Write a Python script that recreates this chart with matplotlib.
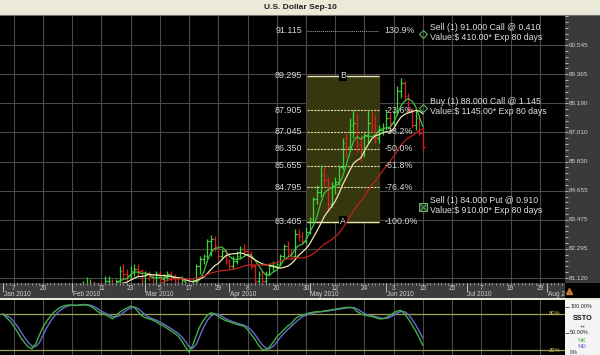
import numpy as np
import pandas as pd
import matplotlib
matplotlib.use("Agg")
import matplotlib.pyplot as plt

plt.rcParams['font.family'] = ['Liberation Sans', 'DejaVu Sans']

# trading calendar of the chart (Jan 18 missing in the feed)
dates = pd.bdate_range('2010-01-04', '2010-08-06')
dates = dates[dates != pd.Timestamp('2010-01-18')]

# daily OHLC, U.S. Dollar Sep-10 (Jan 4 .. Jun 15)
opens = [78.3, 78.0, 77.9, 77.6, 78.2, 77.7, 77.2, 77.3, 77.4, 77.2, 77.7, 78.1, 78.6, 78.8, 78.6, 78.4, 78.8, 79.2, 79.4,
         79.8, 79.9, 79.6, 80.0, 80.8, 80.9, 80.9, 80.5, 80.8, 80.7, 81.0, 81.0, 80.6, 81.0, 81.4, 81.3, 81.2, 81.4, 81.5, 81.4,
         81.0, 81.3, 81.2, 80.8, 81.3, 81.1, 81.2, 81.3, 81.2, 81.0, 80.9, 81.1, 80.6, 80.3, 81.0, 81.6, 81.9, 82.0, 82.6, 82.7, 82.4, 82.0, 82.2,
         81.8, 81.6, 81.8, 82.0, 82.3, 82.2, 82.1, 81.6, 81.0, 81.3, 81.0, 81.3, 81.6, 81.6, 81.7, 82.0, 82.4, 82.1, 82.0, 82.9, 82.8, 82.6,
         83.0, 83.5, 84.3, 84.6, 85.3, 85.1, 84.1, 84.8, 85.0, 85.6, 86.6, 86.4, 87.3, 87.4, 86.5, 86.1, 86.9, 87.4, 87.3, 86.8, 87.1,
         87.2, 87.6, 87.4, 87.8, 88.7, 89.0, 88.5, 87.9, 87.3, 87.6, 87.0]
highs = [78.4, 78.2, 78.0, 78.4, 78.5, 77.8, 77.5, 77.6, 77.5, 77.8, 78.2, 78.7, 79.0, 78.9, 78.7, 78.9, 79.3, 79.5, 79.9,
         80.0, 80.0, 80.1, 81.0, 81.15, 81.1, 81.0, 80.9, 81.0, 81.2, 81.2, 81.1, 81.1, 81.6, 81.7, 81.5, 81.6, 81.7, 81.7, 81.5,
         81.4, 81.4, 81.3, 81.4, 81.4, 81.3, 81.4, 81.4, 81.3, 81.2, 81.2, 81.1, 80.7, 81.1, 81.7, 82.0, 82.1, 82.7, 82.85, 82.8, 82.5, 82.3, 82.3,
         81.9, 82.0, 82.2, 82.4, 82.5, 82.3, 82.2, 81.7, 81.4, 81.4, 81.4, 81.7, 81.8, 81.8, 82.1, 82.5, 82.6, 82.3, 83.1, 83.1, 83.0, 83.2,
         83.6, 84.4, 84.9, 85.7, 85.6, 85.2, 85.0, 85.2, 85.7, 86.8, 87.0, 87.6, 87.9, 87.8, 86.9, 87.0, 87.9, 87.9, 87.7, 87.3, 87.4,
         87.9, 87.8, 87.9, 88.9, 89.2, 89.1, 88.6, 88.0, 87.9, 87.7, 87.2]
lows = [77.8, 77.7, 77.4, 77.5, 77.6, 77.1, 77.0, 77.1, 77.0, 77.1, 77.6, 78.0, 78.4, 78.4, 78.3, 78.3, 78.7, 79.0, 79.3,
        79.5, 79.4, 79.5, 79.9, 80.6, 80.6, 80.4, 80.4, 80.5, 80.6, 80.8, 80.5, 80.5, 80.9, 81.1, 81.0, 81.1, 81.2, 81.2, 80.9,
        80.9, 81.0, 80.7, 80.7, 80.9, 80.9, 81.0, 81.0, 80.9, 80.8, 80.8, 80.5, 80.2, 80.2, 80.9, 81.3, 81.7, 81.9, 82.0, 82.2, 81.9, 81.9, 81.7,
        81.5, 81.5, 81.7, 81.9, 82.0, 81.9, 81.5, 80.9, 80.9, 80.9, 80.9, 81.2, 81.4, 81.5, 81.6, 81.9, 82.0, 81.9, 81.9, 82.6, 82.5, 82.5,
        82.9, 83.4, 84.1, 84.4, 84.8, 83.8, 84.0, 84.5, 84.9, 85.5, 86.0, 86.3, 86.8, 86.2, 85.8, 86.0, 86.6, 87.0, 86.6, 86.6, 86.9,
        87.1, 87.1, 87.3, 87.7, 88.4, 88.3, 87.8, 87.2, 87.1, 86.9, 86.3]
closes = [78.0, 77.9, 77.6, 78.2, 77.8, 77.2, 77.3, 77.4, 77.2, 77.7, 78.1, 78.6, 78.8, 78.6, 78.4, 78.8, 79.2, 79.4, 79.8,
          79.9, 79.6, 80.0, 80.8, 80.9, 80.9, 80.5, 80.8, 80.7, 81.0, 81.0, 80.6, 81.0, 81.4, 81.3, 81.2, 81.4, 81.5, 81.4, 81.0,
          81.3, 81.2, 80.8, 81.3, 81.1, 81.2, 81.3, 81.2, 81.0, 80.9, 81.1, 80.6, 80.3, 81.0, 81.6, 81.9, 82.0, 82.6, 82.7, 82.4, 82.0, 82.2, 81.8,
          81.6, 81.8, 82.0, 82.3, 82.2, 82.1, 81.6, 81.0, 81.3, 81.0, 81.3, 81.6, 81.6, 81.7, 82.0, 82.4, 82.1, 82.0, 82.9, 82.8, 82.6, 83.0,
          83.5, 84.3, 84.6, 85.3, 85.1, 84.1, 84.8, 85.0, 85.6, 86.6, 86.4, 87.3, 87.4, 86.5, 86.1, 86.9, 87.4, 87.3, 86.8, 87.1, 87.2,
          87.6, 87.4, 87.8, 88.7, 89.0, 88.5, 87.9, 87.3, 87.6, 87.0, 86.4]

# slow stochastic %K
pct_k = [80, 74, 68, 60, 50, 40, 32, 25, 22, 30, 45, 58, 68, 76, 83, 88, 92, 94, 95, 95,
         94, 95, 96, 95, 93, 89, 84, 81, 79, 76, 72, 77, 83, 87, 90, 93, 91, 84, 77, 74,
         72, 70, 67, 63, 60, 56, 52, 48, 43, 35, 25, 16, 28, 45, 60, 70, 78, 82, 80, 76,
         72, 69, 67, 65, 63, 61, 60, 54, 46, 38, 28, 21, 20, 25, 33, 42, 48, 54, 60, 64,
         72, 76, 78, 80, 82, 83, 84, 84, 85, 86, 87, 88, 89, 90, 91, 91, 90, 84, 80, 78,
         77, 76, 74, 72, 72, 74, 78, 82, 85, 86, 80, 72, 62, 52, 40, 28]

# fibonacci retracement drawn from Apr 30 to May 28
fib_prices = [91.115, 89.295, 87.905, 87.045, 86.350, 85.655, 84.795, 83.405]
fib_pcts = ['130.9%', '', '-23.6%', '-38.2%', '-50.0%', '-61.8%', '-76.4%', '-100.0%']
fib_marks = ['', 'B', '', '', '', '', '', 'A']
fib_from, fib_to = '2010-04-30', '2010-05-28'

# option positions
opt_line1 = ['Sell (1) 91.000 Call @ 0.410', 'Buy (1) 88.000 Call @ 1.145', 'Sell (1) 84.000 Put @ 0.910']
opt_line2 = ['Value:$ 410.00* Exp 80 days', 'Value:$ 1145.00* Exp 80 days', 'Value:$ 910.00* Exp 80 days']
opt_strikes = [91.0, 88.0, 84.0]
opt_kind = ['call', 'call', 'put']

price_ticks = [81.120, 82.295, 83.475, 84.655, 85.830, 87.010, 88.190, 89.365, 90.545]

W, H = 600, 355
def frame(x0, y0, x1, y1):
    return [x0 / W, 1 - y1 / H, (x1 - x0) / W, (y1 - y0) / H]

def bare(a):
    a.set_xticks([]); a.set_yticks([])
    for s in a.spines.values():
        s.set_visible(False)

fig = plt.figure(figsize=(6, 3.55), dpi=100, facecolor='#ECE9D8')
XL = (-0.77, 153.9)
idx = np.arange(len(closes))
grid_x = np.arange(3, 150, 8)

# title bar
at = fig.add_axes(frame(0, 0, 600, 15), facecolor='#ECE9D8'); bare(at)
at.spines['bottom'].set_visible(True); at.spines['bottom'].set_color('#707070')
at.text(0.5, 0.5, 'U.S. Dollar Sep-10', ha='center', va='center', fontsize=6, fontweight='bold', color='#202020')

# price panel
ax = fig.add_axes(frame(0, 16, 565, 283), facecolor='black'); bare(ax)
ax.set_xlim(*XL); ax.set_ylim(80.918, 91.72)
for g in grid_x:
    ax.axvline(g, color='#4a4a4a', lw=0.8, zorder=0)
for p in price_ticks:
    ax.axhline(p, color='#4a4a4a', lw=0.8, zorder=0)

x0 = dates.get_loc(pd.Timestamp(fib_from)) + 0.3
x1 = dates.get_loc(pd.Timestamp(fib_to))
ax.fill_between([x0, x1], fib_prices[-1], fib_prices[1], color='#37370f', zorder=1)
for p, pc, mk in zip(fib_prices, fib_pcts, fib_marks):
    if mk:
        ax.hlines(p, x0, x1, color='#e6e6b4', lw=1, zorder=2)
        ax.text((x0 + x1) / 2, p, mk, ha='center', va='center', fontsize=6.4, color='#e0e0e0', zorder=3,
                bbox=dict(facecolor='black', edgecolor='none', pad=0.6))
    elif pc == '130.9%':
        ax.hlines(p, x0, x1, color='#a8a8a8', lw=0.7, linestyles=(0, (1, 1)), zorder=2)
    else:
        ax.hlines(p, x0, x1, color='#e0e0a0', lw=0.8, linestyles=(0, (2, 1)), zorder=2)
    ax.text(x0 - 1.4, p, f'{p:.3f}', ha='right', va='center', fontsize=6.4, color='#d8d8d8')
    if pc:
        ax.text(x1 + 1.4, p, pc, ha='left', va='center', fontsize=6.4, color='#d8d8d8', zorder=5)

o = np.array(opens); h = np.array(highs); l = np.array(lows); c = np.array(closes)
cols = np.where(c >= o, '#3cd23c', '#d82020')
ax.vlines(idx, l, h, colors=cols, lw=0.9, zorder=3)
ax.hlines(o, idx - 0.45, idx, colors=cols, lw=0.9, zorder=3)
ax.hlines(c, idx, idx + 0.45, colors=cols, lw=0.9, zorder=3)

cs = pd.Series(closes)
ax.plot(idx, cs.rolling(5, min_periods=1).mean(), color='#40c040', lw=0.9, zorder=4)
ax.plot(idx, cs.rolling(10, min_periods=1).mean(), color='#e8e8b0', lw=0.9, zorder=4)
ax.plot(idx, cs.rolling(25, min_periods=1).mean(), color='#c02020', lw=0.9, zorder=4)

xm = idx[-1]
for t1, t2, k, kind in zip(opt_line1, opt_line2, opt_strikes, opt_kind):
    if kind == 'put':
        ax.plot(xm, k, marker='s', ms=6, mfc='#1c301c', mec='#70b070', mew=0.8, zorder=6)
        ax.plot(xm, k, marker='x', ms=4, mec='#70b070', mew=0.6, zorder=7)
    else:
        ax.plot(xm, k, marker='D', ms=4.2, mfc='none', mec='#60b060', mew=0.8, zorder=6)
    ax.annotate(t1 + '\n' + t2, xy=(xm, k), xytext=(5, 1), textcoords='offset points',
                ha='left', va='center', fontsize=6.3, color='#e0e0e0', linespacing=1.15)

# right price scale
ar = fig.add_axes(frame(565, 16, 600, 283), facecolor='#3a3a3a'); bare(ar)
ar.set_xlim(0, 1); ar.set_ylim(80.918, 91.72)
minor = np.arange(price_ticks[0] - 0.471, 91.72, 0.2355)
ar.hlines(minor, 0, 0.09, color='#c8c8c8', lw=0.6)
for p in price_ticks:
    ar.text(0.1, p, f'{p:.3f}', ha='left', va='center', fontsize=4.6, color='#d0d0d0')

# date strip
ad = fig.add_axes(frame(0, 283, 565, 298), facecolor='#3c3c3c'); bare(ad)
ad.set_xlim(*XL); ad.set_ylim(0, 15)
ad.vlines(np.arange(len(dates)), 13.2, 15, color='#c8c8c8', lw=0.5)
months = [i for i in range(len(dates)) if i == 0 or dates[i].month != dates[i - 1].month]
for i in months:
    ad.vlines(i, 6, 15, color='#d0d0d0', lw=0.6)
    ad.text(i + 0.2, 3.6, dates[i].strftime('%b %Y'), ha='left', va='center', fontsize=4.7, color='#d0d0d0')
for g in grid_x:
    if g not in months:
        ad.text(g, 9.3, str(dates[g].day), ha='center', va='center', fontsize=4.7, color='#d0d0d0')

al = fig.add_axes(frame(565, 283, 600, 298), facecolor='black'); bare(al)
al.text(0.68, 0.48, 'TNT', ha='center', va='center', fontsize=7, fontweight='bold', color='white')
al.plot([0.12], [0.5], marker='^', ms=5, color='#c87830', transform=al.transAxes)

# stochastic panel
asb = fig.add_axes(frame(0, 300, 565, 355), facecolor='black'); bare(asb)
asb.set_xlim(*XL); asb.set_ylim(11.7, 103.3)
for g in grid_x:
    asb.axvline(g, color='#4a4a4a', lw=0.8, zorder=0)
asb.axhline(80, color='#a0a058', lw=0.9)
asb.axhline(20, color='#a0a058', lw=0.9)
asb.text(149.5, 80, '80%', ha='left', va='center', fontsize=4.2, color='#c8c860')
asb.text(149.5, 20, '20%', ha='left', va='center', fontsize=4.2, color='#c8c860')
k = pd.Series(pct_k)
asb.plot(idx, k.rolling(3, min_periods=1).mean(), color='#6a6ad0', lw=1, zorder=3)
asb.plot(idx, k, color='#40b040', lw=1, zorder=4)

asr = fig.add_axes(frame(565, 300, 600, 355), facecolor='#f4f4f4'); bare(asr)
asr.set_xlim(0, 1); asr.set_ylim(0, 55)
asr.text(0.15, 48, '100.00%', fontsize=3.9, va='center', color='#202020')
asr.text(0.5, 37, 'SSTO', fontsize=5.2, fontweight='bold', ha='center', va='center', color='#101010')
asr.text(0.5, 29, '++', fontsize=3.9, ha='center', va='center', color='#404040')
asr.text(0.15, 22, '50.00%', fontsize=3.9, va='center', color='#202020')
asr.text(0.5, 14.5, '%K', fontsize=3.9, ha='center', va='center', color='#30a030')
asr.text(0.5, 8, '%D', fontsize=3.9, ha='center', va='center', color='#5050c0')
asr.text(0.15, 2.6, '0%', fontsize=3.9, va='center', color='#202020')
asr.hlines([48, 22], 0, 0.1, color='#404040', lw=0.6)

fig.savefig('out.png', dpi=100, facecolor=fig.get_facecolor())
